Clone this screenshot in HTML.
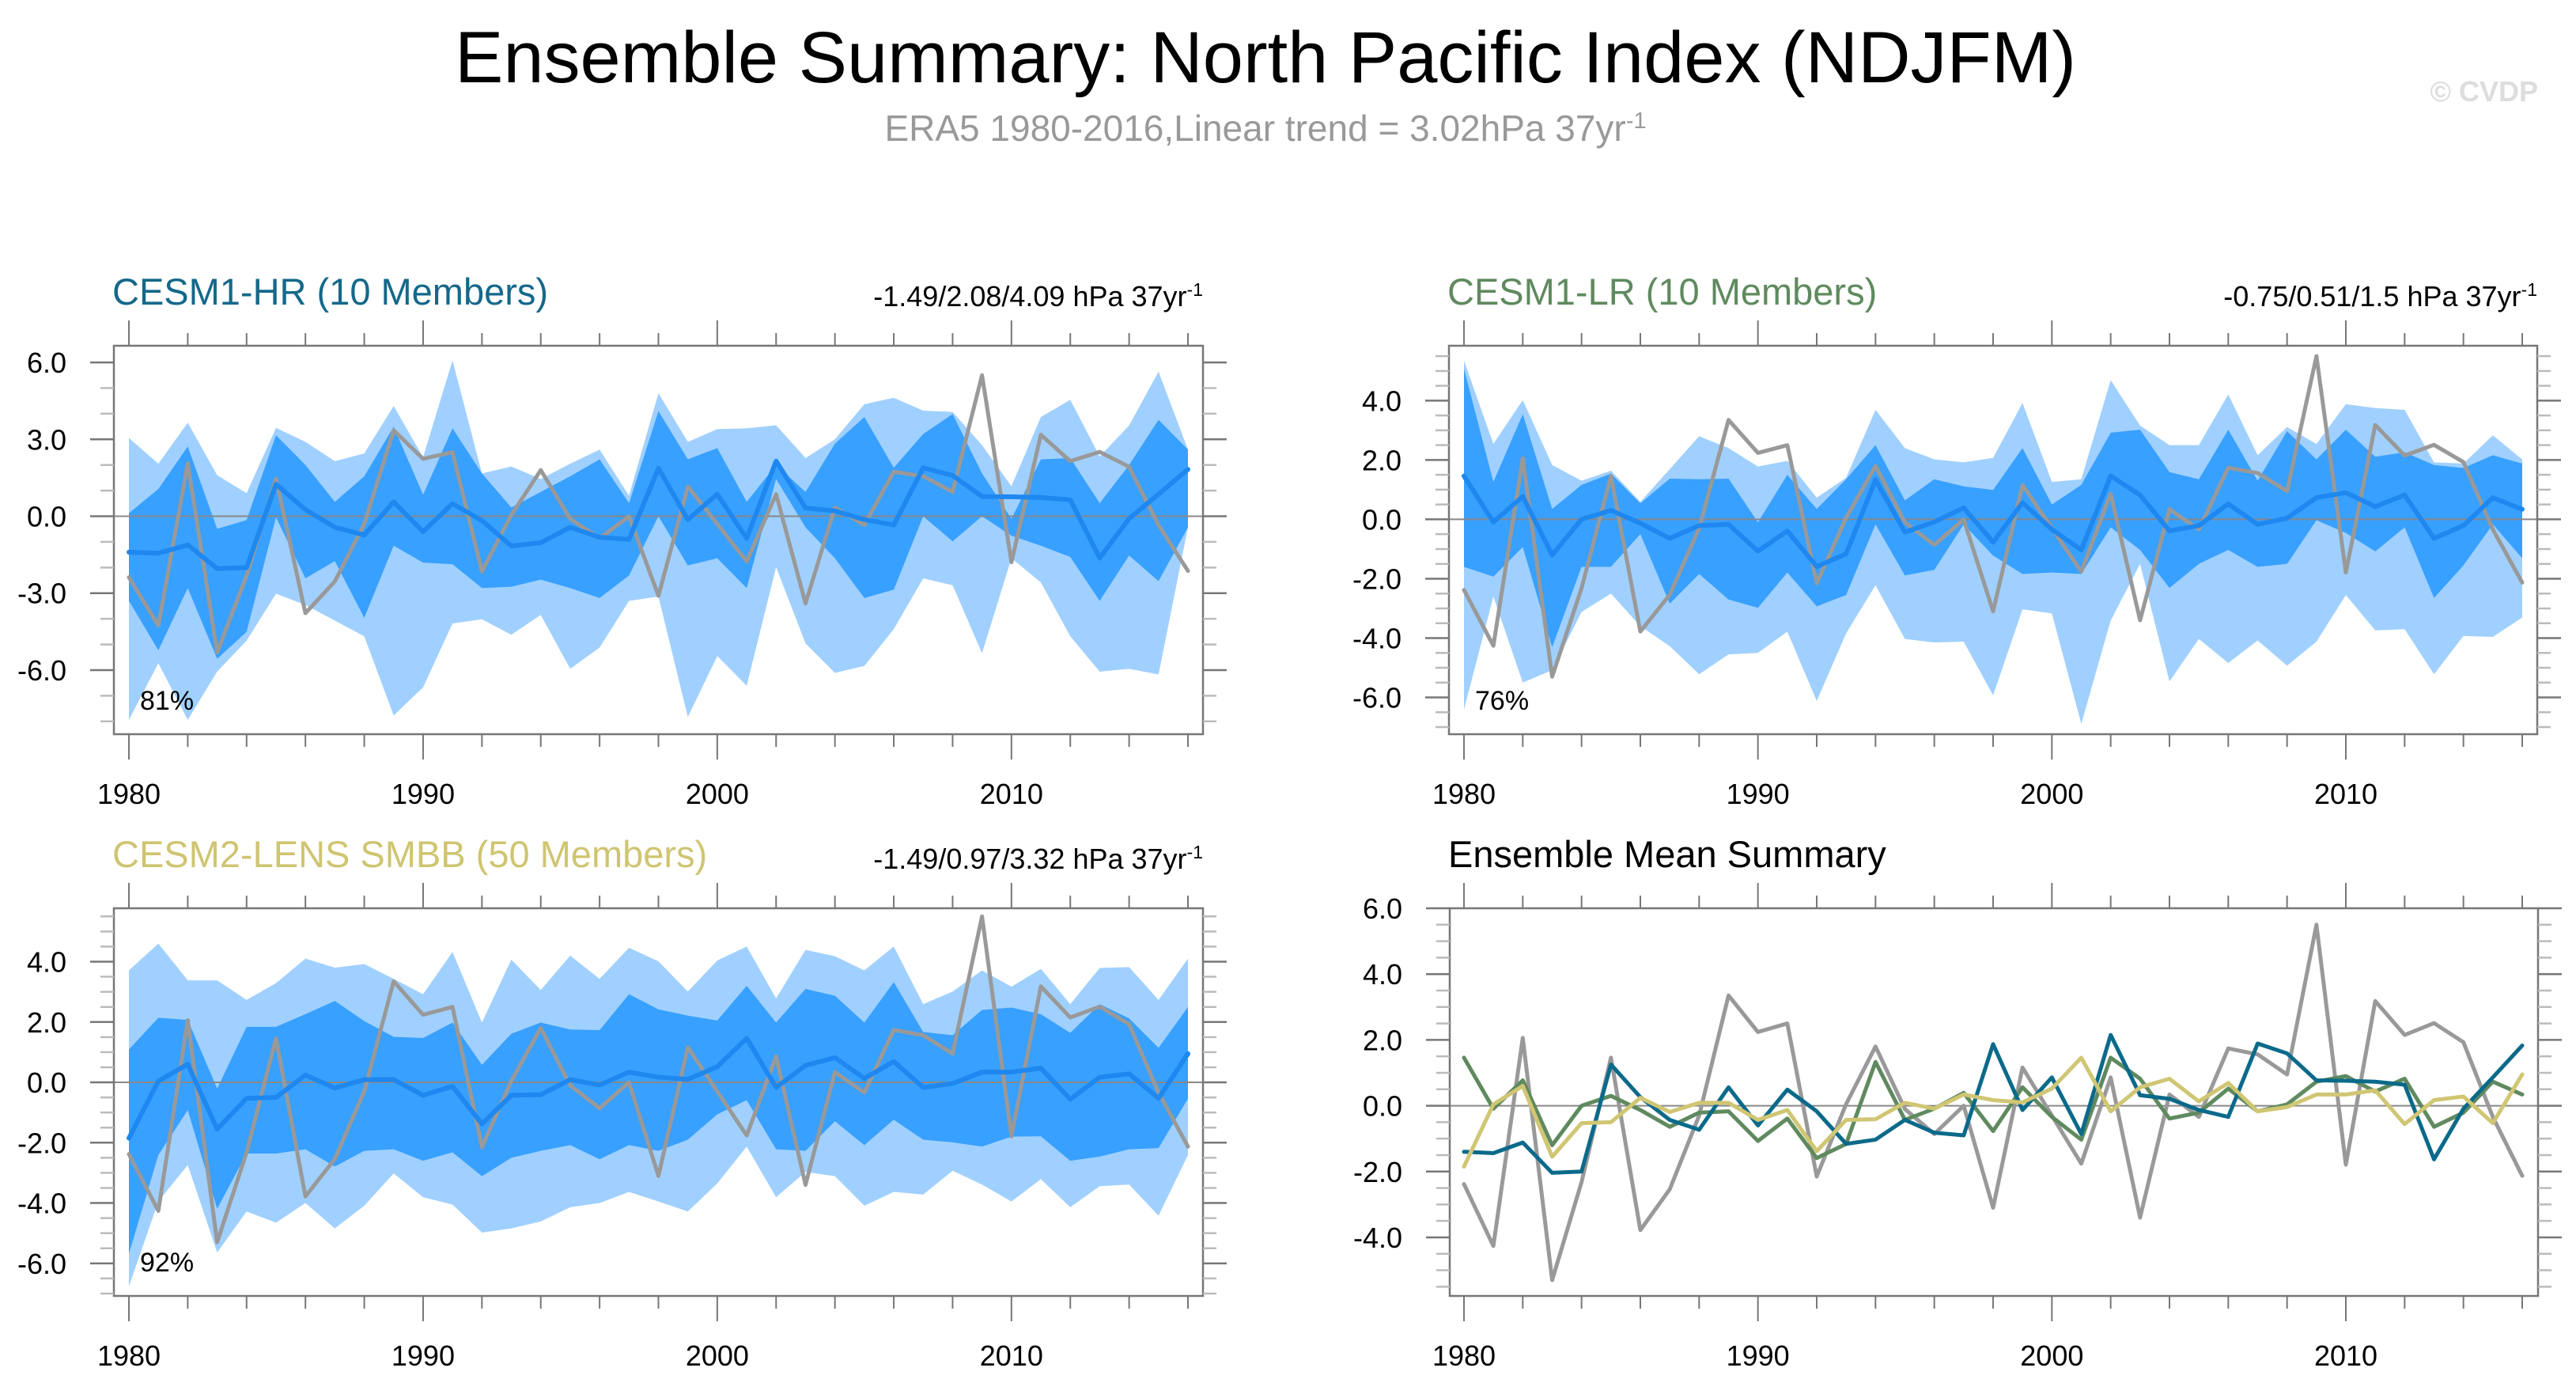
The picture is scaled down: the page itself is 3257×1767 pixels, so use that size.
<!DOCTYPE html>
<html><head><meta charset="utf-8">
<style>
html,body{margin:0;padding:0;background:#fff;}
svg text{font-family:"Liberation Sans",sans-serif;}
</style></head>
<body>
<svg id="chart" width="3257" height="1762" viewBox="0 0 3257 1762" xmlns="http://www.w3.org/2000/svg">
<text x="1600" y="104" font-size="92" text-anchor="middle" fill="#000">Ensemble Summary: North Pacific Index (NDJFM)</text>
<text x="1600" y="178" font-size="46" text-anchor="middle" fill="#999">ERA5 1980-2016,Linear trend = 3.02hPa 37yr<tspan dy="-16" font-size="29">-1</tspan></text>
<text x="3209" y="128" font-size="36" font-weight="bold" text-anchor="end" fill="#ddd">© CVDP</text>
<g id="plots"></g>
</svg>
<script>
const years = [];
for (let y = 1980; y <= 2016; y++) years.push(y);
const era5 = [-2.38,-4.26,2.06,-5.3,-2.32,1.46,-3.78,-2.54,-0.3,3.35,2.24,2.5,-2.15,0.05,1.8,-0.1,-0.86,0,-3.1,1.16,-0.3,-1.76,0.86,-3.4,0.34,-0.34,1.74,1.56,0.95,5.5,-1.79,3.18,2.15,2.51,1.93,-0.34,-2.13];
const hrMean = [-1.4,-1.44,-1.12,-2.04,-2.0,1.25,0.26,-0.43,-0.73,0.56,-0.6,0.49,-0.17,-1.16,-1.03,-0.43,-0.82,-0.9,1.87,-0.13,0.86,-0.86,2.15,0.32,0.21,-0.13,-0.34,1.89,1.59,0.77,0.76,0.73,0.64,-1.63,-0.09,0.86,1.83];
const lrMean = [1.46,-0.09,0.77,-1.2,0,0.3,-0.13,-0.64,-0.21,-0.17,-1.07,-0.39,-1.59,-1.16,1.33,-0.43,-0.09,0.39,-0.77,0.56,-0.34,-1.03,1.46,0.82,-0.39,-0.21,0.52,-0.17,0.04,0.73,0.9,0.43,0.82,-0.64,-0.21,0.73,0.34];
const smbbMean = [-1.85,0.04,0.6,-1.55,-0.53,-0.5,0.24,-0.19,0.09,0.09,-0.43,-0.13,-1.38,-0.43,-0.41,0.09,-0.09,0.34,0.17,0.1,0.52,1.46,-0.17,0.56,0.82,0.13,0.69,-0.17,-0.04,0.34,0.34,0.47,-0.56,0.17,0.28,-0.53,0.95];
const hrMax = [3.05,2.05,3.65,1.6,0.9,3.45,2.9,2.15,2.45,4.3,2.3,6.08,1.67,1.94,1.45,2.05,2.6,0.8,4.8,2.9,3.4,3.43,3.55,2.27,3.0,4.37,4.62,4.12,4.07,2.77,1.17,3.87,4.54,2.33,3.54,5.64,2.6];
const hrP90 = [0.12,1.06,2.72,-0.49,-0.15,3.16,2.0,0.56,1.56,3.49,0.84,3.43,1.67,0.34,0.95,1.56,2.22,0.51,4.1,2.22,2.66,0.56,2.0,0.95,2.83,3.87,1.89,3.21,3.98,1.67,-0.1,2.22,2.27,0.51,2.0,3.76,2.6];
const hrP10 = [-3.3,-5.23,-2.8,-5.56,-4.51,-0.04,-2.42,-1.75,-3.96,-1.15,-1.81,-1.87,-2.8,-2.75,-2.47,-2.8,-3.19,-2.31,0.0,-1.92,-1.64,-2.8,1.45,-0.43,-1.64,-3.19,-2.86,0,-0.98,0,-0.76,-1.15,-1.59,-3.3,-1.53,-2.53,-0.43];
const hrMin = [-7.94,-5.73,-7.94,-6.06,-4.85,-3.02,-3.46,-4.07,-4.68,-7.77,-6.67,-4.18,-4.02,-4.62,-3.85,-5.95,-5.12,-3.3,-3.13,-7.83,-5.45,-6.61,-1.98,-4.96,-6.11,-5.84,-4.4,-2.42,-2.69,-5.34,-1.64,-2.58,-4.68,-6.06,-5.95,-6.17,-0.43];
const lrMax = [5.35,2.54,4.02,1.83,1.3,1.64,0.59,1.69,2.8,2.4,1.78,1.97,0.73,1.4,3.69,2.4,2.02,1.92,2.07,3.92,1.26,1.35,4.69,3.16,2.5,2.5,4.21,2.16,3.11,2.54,3.88,3.75,3.69,1.92,1.88,2.83,2.02];
const lrP90 = [5.07,1.26,3.54,0.35,1.16,1.54,0.54,1.37,1.35,1.37,-0.1,1.5,0.35,1.35,2.5,0.64,1.35,1.11,0.99,2.4,0.5,1.16,2.92,3.02,1.59,1.35,3.02,1.3,2.97,2.02,3.02,2.11,2.26,1.83,1.73,2.16,1.88];
const lrP10 = [-1.6,-1.93,-0.93,-4.31,-1.6,-1.6,-0.5,-2.84,-1.84,-2.7,-2.98,-1.79,-2.93,-2.55,-0.17,-1.89,-1.7,-0.17,-1.22,-1.84,-1.79,-1.84,-0.27,-1.03,-2.31,-1.5,-1.03,-1.6,-1.5,-0.03,-0.46,-1.08,-0.27,-2.65,-1.55,-0.17,-1.31];
const lrMin = [-6.41,-2.6,-5.5,-5.08,-3.12,-2.5,-3.6,-4.27,-5.22,-4.55,-4.5,-3.78,-6.12,-3.84,-2.22,-4.03,-4.15,-4.12,-5.93,-3.03,-3.17,-6.89,-3.41,-1.5,-5.46,-4.03,-4.84,-4.08,-4.93,-4.12,-2.55,-3.74,-3.7,-5.22,-3.93,-3.96,-3.31];
const smMax = [3.71,4.6,3.38,3.38,2.73,3.29,4.1,3.8,3.92,3.43,2.92,4.32,1.98,4.07,3.06,4.2,3.43,4.46,4.01,3.01,4.04,4.5,2.78,4.39,4.18,3.71,4.5,2.59,3.01,3.71,3.17,3.76,2.59,3.79,3.82,2.73,4.1];
const smP90 = [1.09,2.14,2.07,-0.21,1.84,1.84,2.26,2.7,2.03,1.51,1.47,1.98,0.58,1.61,1.98,1.75,1.73,2.92,2.42,2.21,2.05,3.2,1.98,3.1,2.87,1.98,3.32,1.67,1.56,2.4,2.48,2.26,1.64,2.59,2.12,1.14,2.5];
const smP10 = [-5.68,-2.41,-0.92,-4.19,-2.36,-2.36,-2.22,-2.79,-2.27,-2.22,-2.6,-2.32,-3.11,-2.5,-2.27,-2.08,-2.55,-2.08,-2.27,-1.9,-1.06,-0.59,-2.22,-2.27,-1.29,-2.08,-1.24,-1.9,-1.99,-2.13,-1.8,-1.79,-2.6,-2.46,-2.22,-2.18,-0.54];
const smMin = [-6.76,-3.95,-2.74,-5.64,-4.28,-4.65,-4.0,-4.84,-4.09,-3.02,-3.81,-4.05,-4.98,-4.84,-4.61,-4.14,-4.0,-3.63,-3.95,-4.28,-3.35,-2.13,-3.81,-2.97,-3.11,-4.09,-3.63,-3.72,-2.93,-3.39,-3.95,-3.21,-4.14,-3.44,-3.39,-4.42,-2.41];
const xTickYears = [1980,1990,2000,2010];
const p1Ticks = ["6.0","3.0","0.0","-3.0","-6.0"];
const p2Ticks = ["4.0","2.0","0.0","-2.0","-4.0","-6.0"];
const p3Ticks = ["4.0","2.0","0.0","-2.0","-4.0","-6.0"];
const p4Ticks = ["6.0","4.0","2.0","0.0","-2.0","-4.0"];

const NS = "http://www.w3.org/2000/svg";
const root = document.getElementById('plots');
function mk(tag, attrs, parent) {
  const e = document.createElementNS(NS, tag);
  for (const k in attrs) e.setAttribute(k, attrs[k]);
  (parent || root).appendChild(e);
  return e;
}

function panel(cfg) {
  const g = mk('g', {});
  
  
  const xs = y => cfg.x0 + (y - 1980) * (cfg.x1 - cfg.x0) / 36;
  const ys = v => cfg.top + (cfg.ymax - v) * (cfg.bottom - cfg.top) / (cfg.ymax - cfg.ymin);
  const poly = (hi, lo, color, nm) => {
    let pts = years.map((y, i) => xs(y) + ',' + ys(hi[i]));
    for (let i = years.length - 1; i >= 0; i--) pts.push(xs(years[i]) + ',' + ys(lo[i]));
    const p = mk('polygon', {points: pts.join(' '), fill: color}, g);
    
    
  };
  const line = (vals, color, w, nm) => {
    const p = mk('polyline', {points: years.map((y, i) => xs(y) + ',' + ys(vals[i])).join(' '), fill: 'none', stroke: color, 'stroke-width': w, 'stroke-linejoin': 'round', 'stroke-linecap': 'round'}, g);
    
    
  };
  if (cfg.bands) {
    poly(cfg.bands[0], cfg.bands[3], '#a0d0ff', 'range-band');
    poly(cfg.bands[1], cfg.bands[2], '#38a0ff', 'inner-band');
  }
  const zl = mk('line', {x1: cfg.left, x2: cfg.right, y1: ys(0), y2: ys(0), stroke: '#888', 'stroke-width': 2}, g);
  
  
  cfg.lines.forEach(l => line(l[0], l[1], l[2], l[3]));
  const b = mk('rect', {x: cfg.left, y: cfg.top, width: cfg.right - cfg.left, height: cfg.bottom - cfg.top, fill: 'none', stroke: '#777', 'stroke-width': 2.5}, g);
  
  
  for (let y = 1980; y <= 2016; y += 2) {
    const major = (y % 10 === 0);
    const L = major ? 32 : 16;
    mk('line', {x1: xs(y), x2: xs(y), y1: cfg.bottom, y2: cfg.bottom + L, stroke: '#777', 'stroke-width': 2}, g);
    mk('line', {x1: xs(y), x2: xs(y), y1: cfg.top, y2: cfg.top - L, stroke: '#777', 'stroke-width': 2}, g);
  }
  xTickYears.forEach(y => {
    const t = mk('text', {x: xs(y), y: cfg.bottom + 88, 'font-size': 36, 'text-anchor': 'middle', fill: '#000'}, g);
    t.textContent = String(y);
    
    
  });
  for (let v = Math.ceil(cfg.ymin / cfg.minor) * cfg.minor; v <= cfg.ymax + 1e-9; v += cfg.minor) {
    const isMajor = Math.abs(v / cfg.major - Math.round(v / cfg.major)) < 1e-6;
    const L = isMajor ? 30 : 17;
    mk('line', {x1: cfg.left - L, x2: cfg.left, y1: ys(v), y2: ys(v), stroke: isMajor ? '#777' : '#bbb', 'stroke-width': 2.5}, g);
    mk('line', {x1: cfg.right, x2: cfg.right + L, y1: ys(v), y2: ys(v), stroke: isMajor ? '#777' : '#bbb', 'stroke-width': 2.5}, g);
  }
  cfg.ticks.forEach(s => {
    const t = mk('text', {x: cfg.left - 60, y: ys(parseFloat(s)) + 13, 'font-size': 36, 'text-anchor': 'end', fill: '#000'}, g);
    t.textContent = s;
    
    
  });
  const tt = mk('text', {x: cfg.left - 2, y: cfg.top - 52, 'font-size': 47, fill: cfg.titleColor}, g);
  tt.textContent = cfg.title;
  
  
  if (cfg.stats) {
    const st = mk('text', {x: cfg.right, y: cfg.top - 50, 'font-size': 36, 'text-anchor': 'end', fill: '#000'}, g);
    st.innerHTML = cfg.stats + '<tspan dy="-13" font-size="23">-1</tspan>';
    
    
  }
  if (cfg.pct) {
    const pt = mk('text', {x: cfg.left + 33, y: cfg.bottom - 31, 'font-size': 34, fill: '#000'}, g);
    pt.textContent = cfg.pct;
    
    
  }
}

panel({name: 'panel-cesm1-hr', left: 144, right: 1521, top: 437, bottom: 928, x0: 163, x1: 1502, ymin: -8.5, ymax: 6.65, major: 3, minor: 1, ticks: p1Ticks,
  bands: [hrMax, hrP90, hrP10, hrMin], lines: [[era5, '#999', 5, 'era5-line'], [hrMean, '#1e88f0', 6, 'ensemble-mean-line']],
  title: 'CESM1-HR (10 Members)', titleColor: '#15688a', stats: '-1.49/2.08/4.09 hPa 37yr', pct: '81%'});
panel({name: 'panel-cesm1-lr', left: 1832, right: 3208, top: 437, bottom: 928, x0: 1851, x1: 3189, ymin: -7.24, ymax: 5.85, major: 2, minor: 0.5, ticks: p2Ticks,
  bands: [lrMax, lrP90, lrP10, lrMin], lines: [[era5, '#999', 5, 'era5-line'], [lrMean, '#1e88f0', 6, 'ensemble-mean-line']],
  title: 'CESM1-LR (10 Members)', titleColor: '#5f8a5f', stats: '-0.75/0.51/1.5 hPa 37yr', pct: '76%'});
panel({name: 'panel-cesm2-lens-smbb', left: 144, right: 1521, top: 1148, bottom: 1638, x0: 163, x1: 1502, ymin: -7.08, ymax: 5.77, major: 2, minor: 0.5, ticks: p3Ticks,
  bands: [smMax, smP90, smP10, smMin], lines: [[era5, '#999', 5, 'era5-line'], [smbbMean, '#1e88f0', 6, 'ensemble-mean-line']],
  title: 'CESM2-LENS SMBB (50 Members)', titleColor: '#cfc571', stats: '-1.49/0.97/3.32 hPa 37yr', pct: '92%'});
panel({name: 'panel-ensemble-mean-summary', left: 1833, right: 3209, top: 1148, bottom: 1638, x0: 1851, x1: 3189, ymin: -5.78, ymax: 6.0, major: 2, minor: 0.5, ticks: p4Ticks,
  bands: null, lines: [[era5, '#999', 5, 'era5-line'], [lrMean, '#5f8a5f', 5, 'cesm1-lr-mean-line'], [hrMean, '#0b6a8a', 5, 'cesm1-hr-mean-line'], [smbbMean, '#d0c673', 5, 'cesm2-smbb-mean-line']],
  title: 'Ensemble Mean Summary', titleColor: '#000', stats: null, pct: null});
</script>
</body></html>
